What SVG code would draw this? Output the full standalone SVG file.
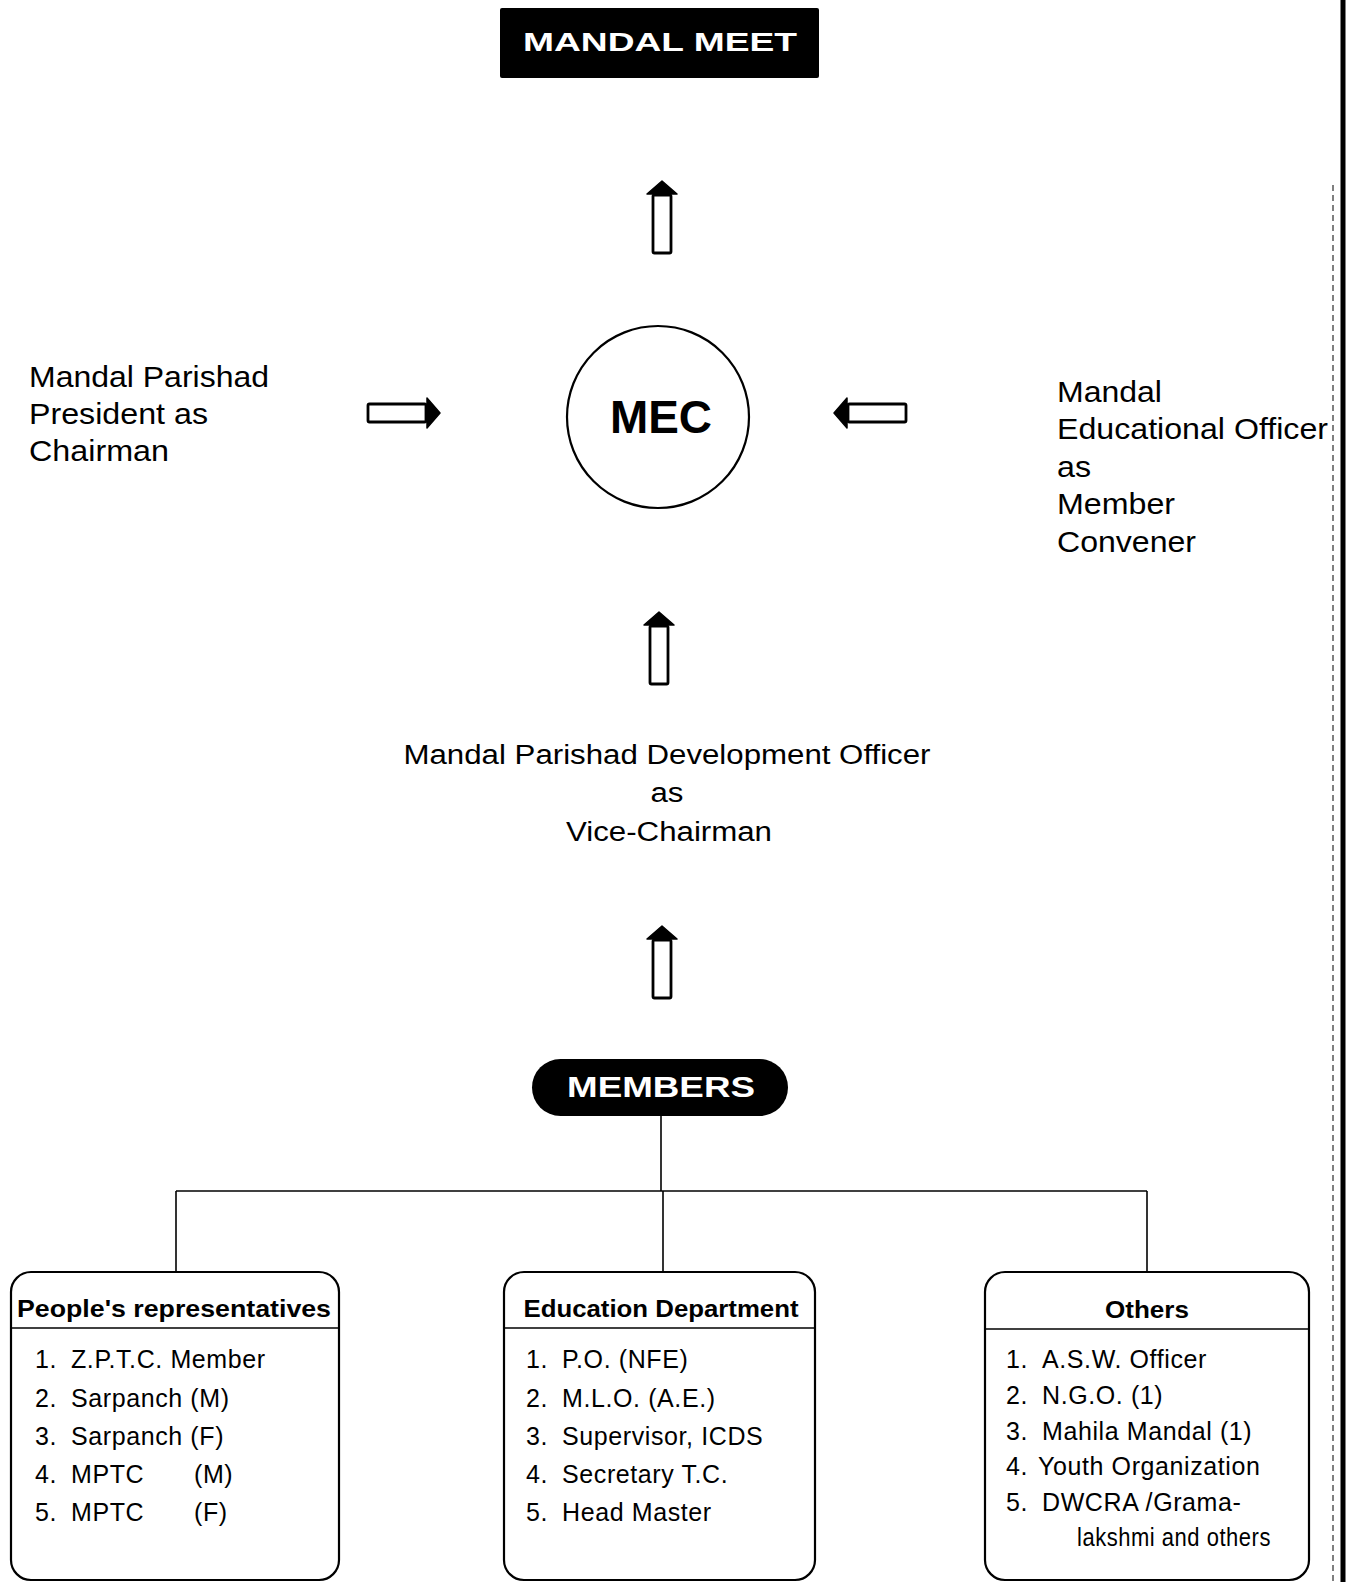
<svg xmlns="http://www.w3.org/2000/svg" width="1349" height="1582" viewBox="0 0 1349 1582">
<style>
.t{font-family:"Liberation Sans",Arial,sans-serif;fill:#000}
.b{font-weight:bold}
.big{font-size:29px}
.mid{font-size:27px}
.li{font-size:25px;letter-spacing:0.6px}
.hd{font-size:24px;font-weight:bold;text-anchor:middle}
.ln{stroke:#000;stroke-width:1.6;fill:none}
.box{fill:#fff;stroke:#000;stroke-width:2.2}
</style>
<defs>
<g id="upArrow">
<rect x="-9" y="14" width="18" height="58" rx="1.5" fill="#fff" stroke="#000" stroke-width="2.8"/>
<polygon points="-15,13 0,0 15,13" fill="#000" stroke="#000" stroke-width="1.5" stroke-linejoin="round"/>
</g>
</defs>
<rect x="0" y="0" width="1349" height="1582" fill="#fff"/>

<g id="mandal-meet">
<rect x="500" y="8" width="319" height="70" rx="2" fill="#000"/>
<text class="t b" x="523" y="51" font-size="26" style="fill:#fff" textLength="274" lengthAdjust="spacingAndGlyphs">MANDAL MEET</text>
</g>

<g id="mec">
<circle cx="658" cy="417" r="91" fill="#fff" stroke="#000" stroke-width="2.2"/>
<text class="t b" x="661" y="433" font-size="46" text-anchor="middle" textLength="102" lengthAdjust="spacingAndGlyphs">MEC</text>
</g>

<g id="chairman">
<text class="t big" x="29" y="387" textLength="240" lengthAdjust="spacingAndGlyphs">Mandal Parishad</text>
<text class="t big" x="29" y="424" textLength="179" lengthAdjust="spacingAndGlyphs">President as</text>
<text class="t big" x="29" y="461" textLength="140" lengthAdjust="spacingAndGlyphs">Chairman</text>
</g>

<g id="convener">
<text class="t" font-size="30" x="1057" y="402" textLength="105" lengthAdjust="spacingAndGlyphs">Mandal</text>
<text class="t" font-size="30" x="1057" y="439" textLength="271" lengthAdjust="spacingAndGlyphs">Educational Officer</text>
<text class="t" font-size="30" x="1057" y="477" textLength="34" lengthAdjust="spacingAndGlyphs">as</text>
<text class="t" font-size="30" x="1057" y="514" textLength="118" lengthAdjust="spacingAndGlyphs">Member</text>
<text class="t" font-size="30" x="1057" y="552" textLength="139" lengthAdjust="spacingAndGlyphs">Convener</text>
</g>

<g id="vice-chairman">
<text class="t mid" x="667" y="764" text-anchor="middle" textLength="527" lengthAdjust="spacingAndGlyphs">Mandal Parishad Development Officer</text>
<text class="t mid" x="667" y="802" text-anchor="middle" textLength="33" lengthAdjust="spacingAndGlyphs">as</text>
<text class="t mid" x="669" y="841" text-anchor="middle" textLength="206" lengthAdjust="spacingAndGlyphs">Vice-Chairman</text>
</g>

<g id="members">
<rect x="532" y="1059" width="256" height="57" rx="28.5" fill="#000"/>
<text class="t b" x="567" y="1097" font-size="30" style="fill:#fff" textLength="188" lengthAdjust="spacingAndGlyphs">MEMBERS</text>
</g>

<g id="connectors">
<use href="#upArrow" transform="translate(662,181)"/>
<use href="#upArrow" transform="translate(659,612)"/>
<use href="#upArrow" transform="translate(662,926)"/>
<use href="#upArrow" transform="translate(440,413) rotate(90)"/>
<use href="#upArrow" transform="translate(834,413) rotate(-90)"/>
<line class="ln" x1="661" y1="1116" x2="661" y2="1191"/>
<line class="ln" x1="176" y1="1191" x2="1147" y2="1191"/>
<line class="ln" x1="176" y1="1191" x2="176" y2="1272"/>
<line class="ln" x1="663" y1="1191" x2="663" y2="1272"/>
<line class="ln" x1="1147" y1="1191" x2="1147" y2="1272"/>
</g>

<g id="peoples-representatives">
<rect class="box" x="11" y="1272" width="328" height="308" rx="20"/>
<line class="ln" x1="11" y1="1328" x2="339" y2="1328"/>
<text class="t hd" x="174" y="1317" textLength="314" lengthAdjust="spacingAndGlyphs">People's representatives</text>
<text class="t li" y="1368"><tspan x="35">1.</tspan><tspan x="71">Z.P.T.C. Member</tspan></text>
<text class="t li" y="1407"><tspan x="35">2.</tspan><tspan x="71">Sarpanch (M)</tspan></text>
<text class="t li" y="1445"><tspan x="35">3.</tspan><tspan x="71">Sarpanch (F)</tspan></text>
<text class="t li" y="1483"><tspan x="35">4.</tspan><tspan x="71">MPTC</tspan><tspan x="194">(M)</tspan></text>
<text class="t li" y="1521"><tspan x="35">5.</tspan><tspan x="71">MPTC</tspan><tspan x="194">(F)</tspan></text>
</g>

<g id="education-department">
<rect class="box" x="504" y="1272" width="311" height="308" rx="20"/>
<line class="ln" x1="504" y1="1328" x2="815" y2="1328"/>
<text class="t hd" x="661" y="1317" textLength="275" lengthAdjust="spacingAndGlyphs">Education Department</text>
<text class="t li" y="1368"><tspan x="526">1.</tspan><tspan x="562">P.O. (NFE)</tspan></text>
<text class="t li" y="1407"><tspan x="526">2.</tspan><tspan x="562">M.L.O. (A.E.)</tspan></text>
<text class="t li" y="1445"><tspan x="526">3.</tspan><tspan x="562">Supervisor, ICDS</tspan></text>
<text class="t li" y="1483"><tspan x="526">4.</tspan><tspan x="562">Secretary T.C.</tspan></text>
<text class="t li" y="1521"><tspan x="526">5.</tspan><tspan x="562">Head Master</tspan></text>
</g>

<g id="others">
<rect class="box" x="985" y="1272" width="324" height="308" rx="20"/>
<line class="ln" x1="985" y1="1329" x2="1309" y2="1329"/>
<text class="t hd" x="1147" y="1318" textLength="84" lengthAdjust="spacingAndGlyphs">Others</text>
<text class="t li" y="1368"><tspan x="1006">1.</tspan><tspan x="1042">A.S.W. Officer</tspan></text>
<text class="t li" y="1404"><tspan x="1006">2.</tspan><tspan x="1042">N.G.O. (1)</tspan></text>
<text class="t li" y="1440"><tspan x="1006">3.</tspan><tspan x="1042">Mahila Mandal (1)</tspan></text>
<text class="t li" y="1475"><tspan x="1006">4.</tspan><tspan x="1038">Youth Organization</tspan></text>
<text class="t li" y="1511"><tspan x="1006">5.</tspan><tspan x="1042">DWCRA /Grama-</tspan></text>
<text class="t li" x="1077" y="1546" textLength="194" lengthAdjust="spacingAndGlyphs">lakshmi and others</text>
</g>

<g id="page-edge">
<line x1="1343" y1="0" x2="1343" y2="1582" stroke="#000" stroke-width="5"/>
<line x1="1333" y1="185" x2="1333" y2="1582" stroke="#000" stroke-width="1" stroke-dasharray="6 4"/>
</g>
</svg>
